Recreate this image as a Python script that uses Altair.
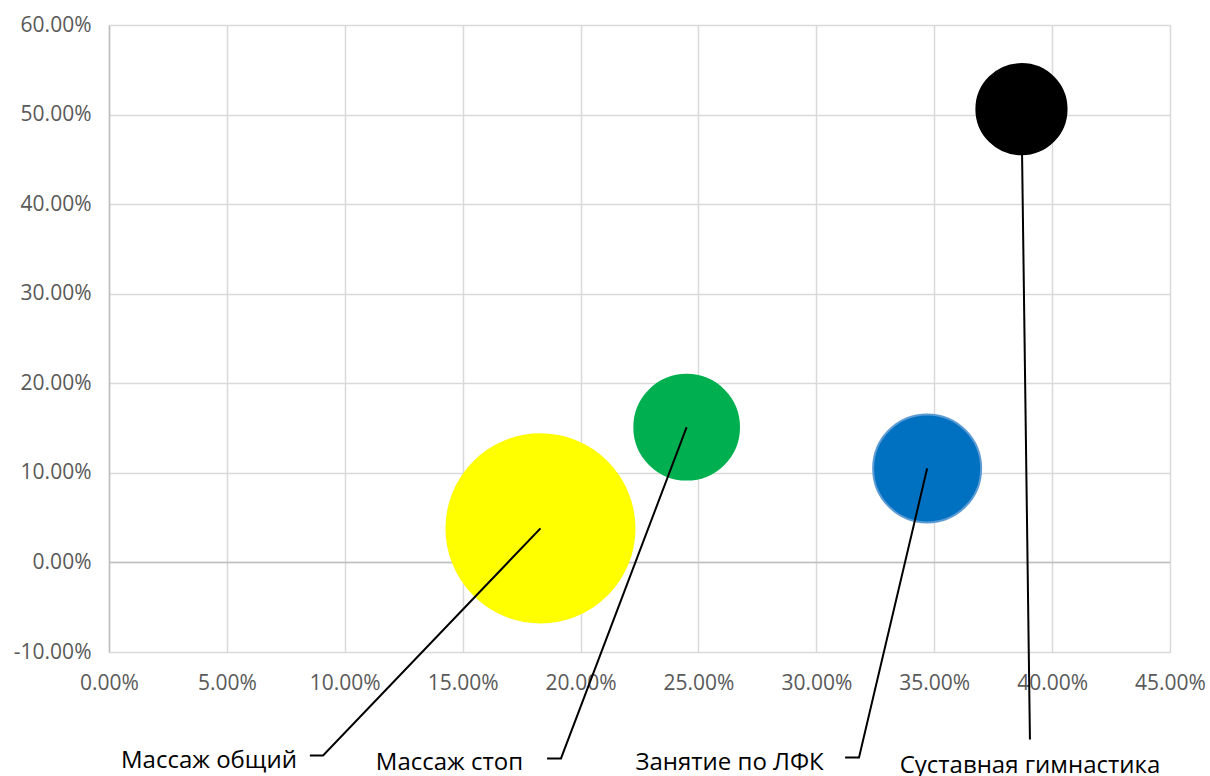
import altair as alt
import pandas as pd

names = ["Массаж общий", "Массаж стоп", "Занятие по ЛФК", "Суставная гимнастика"]
x_vals = [0.183, 0.245, 0.347, 0.387]
y_vals = [0.038, 0.151, 0.105, 0.506]
sizes = [100, 31, 33, 23]
fills = ["#FFFF00", "#00B050", "#0070C0", "#000000"]
strokes = ["#FFFF00", "#00B050", "#5B9BD5", "#000000"]

# label anchors (data units)
label_x = [0.0424, 0.1444, 0.2632, 0.3906]
label_y = [-0.2290, -0.2320, -0.2320, -0.2355]
elbow_x = [0.0908, 0.1917, 0.3181, 0.3906]
elbow_y = [-0.2155, -0.2188, -0.2177, -0.1976]
end_x = [0.0852, 0.1858, 0.3122, 0.3906]

x_ticks = [0, 0.05, 0.10, 0.15, 0.20, 0.25, 0.30, 0.35, 0.40, 0.45]
y_ticks = [-0.1, 0, 0.1, 0.2, 0.3, 0.4, 0.5, 0.6]

FONT = "Open Sans"

bub = pd.DataFrame({"name": names, "x": x_vals, "y": y_vals, "s": sizes,
                    "fill": fills, "stroke": strokes})
lab = pd.DataFrame({"name": names, "x": label_x, "y": label_y})
rows = []
for i, n in enumerate(names):
    rows.append({"name": n, "o": 0, "x": x_vals[i], "y": y_vals[i]})
    rows.append({"name": n, "o": 1, "x": elbow_x[i], "y": elbow_y[i]})
    rows.append({"name": n, "o": 2, "x": end_x[i], "y": elbow_y[i]})
lines = pd.DataFrame(rows)

xscale = alt.Scale(domain=[0, 0.45], nice=False, zero=False)
yscale = alt.Scale(domain=[-0.1, 0.6], nice=False, zero=False)

xaxis = alt.Axis(values=x_ticks, format=".2%", title=None, domain=False, ticks=False,
                 grid=True, gridColor="#D9D9D9", gridWidth=1.5,
                 labelFont=FONT, labelFontSize=21, labelColor="#595959",
                 labelPadding=20, labelFlush=False)
yaxis = alt.Axis(values=y_ticks, format=".2%", title=None, domain=True,
                 domainColor="#BFBFBF", domainWidth=1.5, ticks=False,
                 grid=True, gridColor="#D9D9D9", gridWidth=1.5,
                 labelFont=FONT, labelFontSize=21, labelColor="#595959",
                 labelPadding=18, labelFlush=False,
                 labelExpr="replace(datum.label, '\u2212', '-')")

base_axes = alt.Chart(pd.DataFrame({"x": [0], "y": [0]})).mark_rule(
    color="#BFBFBF", strokeWidth=1.5
).encode(
    y=alt.Y("y:Q", scale=yscale, axis=yaxis),
)

zero_axis = alt.Chart(pd.DataFrame({"x": [0.0]})).mark_point(opacity=0).encode(
    x=alt.X("x:Q", scale=xscale, axis=xaxis),
)

bubbles = alt.Chart(bub).mark_circle(opacity=1, strokeWidth=2).encode(
    x=alt.X("x:Q", scale=xscale),
    y=alt.Y("y:Q", scale=yscale),
    size=alt.Size("s:Q", scale=alt.Scale(domain=[0, 100], range=[0, 35344]), legend=None),
    color=alt.Color("fill:N", scale=None),
    stroke=alt.Stroke("stroke:N", scale=None),
)

leaders = alt.Chart(lines).mark_line(color="black", strokeWidth=2).encode(
    x=alt.X("x:Q", scale=xscale),
    y=alt.Y("y:Q", scale=yscale),
    detail="name:N",
    order="o:Q",
)

labels = alt.Chart(lab).mark_text(font=FONT, fontSize=24, color="black",
                                  align="center", baseline="alphabetic").encode(
    x=alt.X("x:Q", scale=xscale),
    y=alt.Y("y:Q", scale=yscale),
    text="name:N",
)

chart = alt.layer(zero_axis, base_axes, bubbles, leaders, labels).properties(
    width=1061, height=627,
    autosize=alt.AutoSizeParams(type="none"),
    padding={"left": 109, "top": 25, "right": 40, "bottom": 124},
).configure_view(stroke=None).configure(background="white")

chart.save("out.html", embed_options={"renderer": "svg", "actions": False})
